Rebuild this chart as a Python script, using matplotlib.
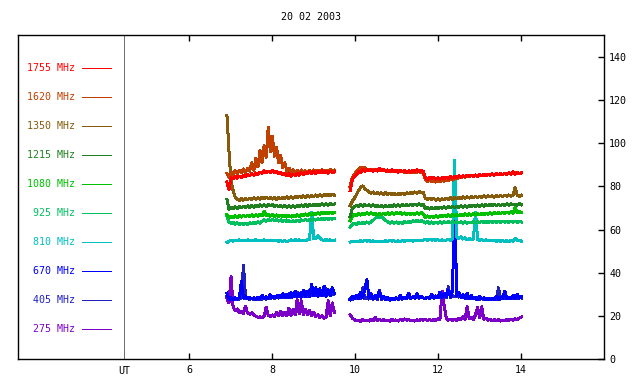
import numpy as np
import matplotlib
matplotlib.use("Agg")
import matplotlib.pyplot as plt

# ---------------- data ----------------
title = "20 02 2003"
freq_labels = ["1755 MHz", "1620 MHz", "1350 MHz", "1215 MHz", "1080 MHz",
               "925 MHz", "810 MHz", "670 MHz", "405 MHz", "275 MHz"]
colors = ["#ff0000", "#c04000", "#865c0c", "#208020", "#00c000",
          "#00c060", "#00c0c0", "#0000ff", "#2020c0", "#7c00c8"]
xticks = [6, 8, 10, 12, 14]
yticks = [0, 20, 40, 60, 80, 100, 120, 140]
seg1_range = (6.91, 9.50)
seg2_range = (9.88, 14.01)
ut_pos = 4.43

f1755_a = [82, 78.5, 84, 83.5, 84.5, 83.8, 84.8, 84.2, 85.2, 84.5,
           85.5, 84.9, 85.8, 85.2, 86.2, 85.5, 86.6, 86.0, 87.2, 86.3,
           87.0, 86.4, 87.3, 86.5, 86.9, 85.9, 86.5, 85.5, 86.0, 84.9,
           85.8, 84.6, 85.7, 85.0, 86.1, 85.2, 86.3, 85.4, 86.5, 85.8,
           86.8, 85.9, 86.9, 86.0, 87.0, 86.2, 87.2, 86.3, 86.9, 86.1,
           87.1, 86.3, 86.8]
f1755_b = [78, 83, 84.5, 85.5, 86.8, 86.2, 87.8, 87.0, 88.0, 87.2,
           87.6, 86.9, 87.9, 87.1, 88.2, 87.3, 87.9, 87.0, 87.6, 86.8,
           87.7, 86.9, 87.5, 86.6, 87.4, 86.8, 87.3, 86.5, 87.2, 86.6,
           87.4, 86.9, 87.6, 86.8, 87.4, 86.9, 84.0, 83.2, 84.3, 83.6,
           84.2, 83.4, 84.0, 83.3, 84.1, 83.5, 84.3, 83.7, 84.6, 83.9,
           84.7, 84.0, 84.9, 84.2, 85.0, 84.4, 85.2, 84.5, 85.1, 84.6,
           85.3, 84.7, 85.4, 84.9, 85.5, 85.0, 85.7, 85.1, 85.8, 85.2,
           85.9, 85.3, 86.0, 85.4, 86.1, 85.5, 86.3, 85.6, 86.9, 85.7,
           86.4, 85.8, 86.2]

f1620_a = [86, 84, 86.5, 85.2, 87.3, 85.8, 87.6, 86.2, 88.1, 86.5,
           88.5, 87.0, 91.0, 87.5, 93.0, 89.0, 96.5, 91.0, 99.0, 93.5,
           107.5, 96.0, 103.0, 94.0, 98.0, 91.0, 94.5, 88.5, 91.0, 87.0,
           88.5, 86.5, 87.8, 86.6, 87.4, 86.2, 87.6, 86.5, 87.2, 86.4,
           87.5, 86.6, 87.6, 86.7, 87.4, 86.8, 87.7, 86.9, 87.5, 86.8,
           87.8, 87.0, 87.6]
f1620_b = [80, 84, 85.5, 87.0, 88.0, 88.8, 88.3, 88.6, 88.0, 87.8,
           87.5, 87.9, 87.3, 88.0, 87.4, 87.8, 87.2, 87.6, 87.0, 87.5,
           86.9, 87.4, 86.8, 87.2, 86.7, 87.1, 86.6, 87.0, 86.5, 86.9,
           86.4, 86.8, 86.5, 86.9, 86.4, 86.2, 83.0, 82.3, 82.9, 82.1,
           82.8, 82.0, 82.7, 82.2, 83.0, 82.4, 83.2, 82.6, 83.4, 82.9,
           83.8, 83.4, 84.4, 84.0, 84.6, 84.2, 84.8, 84.4, 85.0, 84.6,
           85.1, 84.8, 85.3, 84.9, 85.4, 85.1, 85.6, 85.2, 85.7, 85.4,
           85.8, 85.5, 85.9, 85.6, 86.0, 85.7, 86.2, 85.8, 86.3, 86.0,
           86.4, 86.1, 86.3]

f1350_a = [113, 96, 82, 78, 75.0, 74.0, 73.5, 74.3, 73.6, 74.5,
           73.8, 74.6, 73.9, 74.7, 74.0, 74.8, 74.1, 74.9, 74.2, 75.0,
           74.3, 74.9, 74.1, 74.8, 74.0, 74.9, 74.2, 75.0, 74.3, 75.1,
           74.4, 75.2, 74.5, 75.3, 74.7, 75.4, 74.8, 75.6, 74.9, 75.7,
           75.0, 75.8, 75.2, 76.0, 75.3, 76.1, 75.4, 76.2, 75.6, 76.3,
           75.7, 76.4, 75.9]
f1350_b = [71, 73.0, 74.5, 76.0, 78.0, 79.5, 80.2, 79.0, 78.2, 77.5,
           76.8, 77.4, 76.5, 77.2, 76.4, 77.0, 76.3, 77.1, 76.2, 76.9,
           76.1, 76.8, 76.0, 76.7, 76.1, 76.9, 76.3, 77.0, 76.5, 77.2,
           76.7, 77.4, 76.9, 77.6, 77.0, 77.4, 74.5, 73.8, 74.6, 73.9,
           74.4, 73.6, 74.2, 73.5, 74.3, 73.7, 74.5, 73.9, 74.7, 74.0,
           74.8, 74.2, 75.0, 74.3, 75.1, 74.5, 75.2, 74.6, 75.3, 74.7,
           75.4, 74.8, 75.5, 74.9, 75.6, 75.0, 75.7, 75.1, 75.6, 75.0,
           75.7, 75.2, 75.8, 75.3, 75.9, 75.4, 76.0, 75.5, 76.1, 79.5,
           75.8, 75.4, 75.9]

f1215_a = [74, 69.5, 70.3, 69.6, 70.5, 69.8, 70.7, 70.0, 70.9, 70.2,
           71.0, 70.3, 71.1, 70.4, 71.3, 70.6, 71.5, 70.8, 71.4, 70.7,
           71.6, 70.9, 71.5, 70.6, 71.3, 70.5, 71.2, 70.4, 71.1, 70.3,
           71.0, 70.2, 71.1, 70.4, 71.2, 70.5, 71.4, 70.7, 71.5, 70.8,
           71.6, 70.9, 71.7, 71.0, 71.8, 71.1, 71.9, 71.2, 72.0, 71.3,
           72.1, 71.4, 71.8]
f1215_b = [66, 69.5, 70.5, 71.2, 70.6, 71.5, 70.8, 71.6, 70.9, 71.5,
           70.7, 71.4, 70.6, 71.3, 70.5, 71.2, 70.4, 71.1, 70.5, 71.3,
           70.6, 71.4, 70.7, 71.5, 70.8, 71.6, 70.9, 71.7, 71.0, 71.8,
           71.1, 71.8, 71.2, 71.9, 71.3, 71.6, 69.6, 70.3, 69.5, 70.2,
           69.6, 70.3, 69.7, 70.4, 69.8, 70.6, 69.9, 70.7, 70.0, 70.8,
           70.1, 70.9, 70.2, 71.0, 70.3, 71.1, 70.4, 71.2, 70.5, 71.3,
           70.6, 71.4, 70.7, 71.5, 70.8, 71.6, 70.9, 71.7, 71.0, 71.8,
           71.1, 71.7, 71.0, 71.8, 71.2, 71.9, 71.3, 72.0, 71.4, 71.6,
           71.3, 72.0, 71.5]

f1080_a = [67, 65.5, 66.2, 65.4, 66.3, 65.6, 66.5, 65.8, 66.6, 65.9,
           66.7, 66.0, 66.8, 66.1, 66.9, 66.2, 67.0, 66.3, 68.5, 66.4,
           67.0, 66.2, 66.9, 66.1, 66.8, 66.0, 66.7, 65.9, 66.6, 65.8,
           66.5, 65.8, 66.6, 65.9, 66.8, 66.1, 67.0, 66.3, 67.2, 66.5,
           67.4, 66.7, 67.6, 66.9, 67.8, 67.1, 67.9, 67.2, 68.0, 67.3,
           68.1, 67.5, 67.9]
f1080_b = [64, 66.0, 67.0, 66.4, 67.3, 66.7, 67.6, 66.9, 67.8, 67.0,
           67.7, 66.9, 67.6, 66.8, 67.5, 66.8, 67.6, 66.9, 67.7, 67.0,
           67.8, 67.1, 67.9, 67.2, 67.8, 67.1, 67.7, 67.0, 67.6, 66.9,
           67.6, 67.0, 67.7, 67.1, 67.8, 67.3, 65.6, 66.3, 65.5, 66.2,
           65.6, 66.4, 65.7, 66.5, 65.9, 66.7, 66.0, 66.8, 66.1, 66.9,
           66.2, 67.0, 66.3, 67.1, 66.4, 67.2, 66.5, 67.3, 66.6, 67.4,
           66.7, 67.4, 66.8, 67.5, 66.9, 67.6, 67.0, 67.7, 67.1, 67.8,
           67.2, 67.9, 67.3, 68.0, 67.4, 68.1, 67.5, 68.2, 67.6, 70.5,
           67.7, 68.2, 67.9]

f925_a = [66, 63.5, 62.8, 63.3, 62.5, 63.1, 62.4, 63.0, 62.3, 62.9,
          62.4, 63.1, 62.6, 63.3, 62.8, 63.5, 63.0, 63.8, 64.5, 63.9,
          64.6, 64.0, 64.7, 64.1, 64.6, 63.9, 64.5, 63.7, 64.3, 63.6,
          64.2, 63.5, 64.1, 63.6, 64.3, 63.8, 64.5, 64.0, 64.7, 64.1,
          64.8, 64.3, 64.9, 64.4, 65.0, 64.5, 65.1, 64.6, 65.2, 64.7,
          65.3, 64.8, 65.1]
f925_b = [61.0, 62.2, 62.9, 62.4, 63.2, 62.6, 63.4, 62.8, 63.5, 62.9,
          63.6, 64.2, 65.2, 66.0, 65.6, 66.2, 65.0, 64.2, 63.5, 63.0,
          63.6, 62.9, 63.5, 62.8, 63.4, 62.9, 63.6, 63.1, 63.8, 63.3,
          64.0, 63.5, 64.2, 63.6, 64.1, 63.7, 63.0, 63.6, 62.9, 63.5,
          62.8, 63.4, 62.9, 63.5, 63.0, 63.6, 63.1, 63.7, 63.2, 63.8,
          63.2, 63.7, 63.1, 63.6, 63.0, 63.5, 62.9, 63.4, 63.0, 63.6,
          63.1, 63.7, 63.2, 63.8, 63.3, 63.7, 63.2, 63.8, 63.3, 63.9,
          63.4, 63.8, 63.3, 63.9, 63.4, 63.8, 63.3, 63.9, 63.4, 63.8,
          63.3, 63.9, 63.5]

f810_a = [54.0, 54.5, 55.0, 54.6, 55.1, 54.8, 55.2, 54.7, 55.1, 54.9,
          55.2, 54.8, 55.1, 54.9, 55.3, 54.8, 55.1, 54.9, 55.2, 54.8,
          55.0, 54.7, 55.1, 54.8, 55.0, 54.6, 54.9, 54.5, 54.9, 54.3,
          54.8, 55.2, 54.9, 55.3, 54.9, 55.2, 54.8, 55.1, 54.9, 55.2,
          55.4, 68.0, 55.6, 55.8, 57.2, 56.0, 55.2, 55.0, 55.3, 54.9,
          55.2, 55.0, 55.1]
f810_b = [54.2, 54.6, 54.3, 54.7, 54.4, 54.8, 54.5, 54.9, 54.6, 54.9,
          54.5, 54.8, 54.4, 54.7, 54.3, 54.6, 54.4, 54.8, 54.5, 54.9,
          54.6, 54.8, 54.4, 54.7, 54.5, 54.9, 54.6, 55.0, 54.7, 55.0,
          54.6, 54.9, 54.7, 55.0, 54.8, 55.1, 55.4, 55.0, 55.5, 55.1,
          55.4, 55.0, 55.3, 54.9, 55.2, 54.8, 55.1, 55.3, 55.0, 56.0,
          92.0, 56.5, 55.8, 56.6, 55.6, 56.1, 55.3, 55.8, 55.2, 55.6,
          68.0, 55.4, 55.0, 55.3, 54.9, 55.2, 54.8, 55.1, 54.7, 55.0,
          54.6, 54.9, 54.6, 54.9, 54.5, 54.8, 54.5, 54.9, 54.6, 56.0,
          54.7, 54.9, 54.6]

f670_a = [30.5, 27.5, 28.3, 27.6, 28.4, 27.8, 28.6, 36.0, 28.2, 28.9,
          27.8, 28.5, 27.9, 28.4, 27.7, 28.6, 28.0, 29.5, 28.1, 28.8,
          28.2, 29.8, 28.4, 29.1, 28.3, 29.6, 28.5, 30.2, 28.6, 29.8,
          28.4, 30.8, 28.7, 31.5, 28.9, 30.6, 28.6, 32.0, 29.0, 31.2,
          28.8, 34.5, 29.2, 33.0, 29.0, 32.5, 29.3, 33.8, 29.1, 32.2,
          29.4, 33.0, 30.5]
f670_b = [27.5, 29.0, 28.0, 29.6, 28.1, 31.0, 28.3, 32.0, 36.8, 28.4,
          30.2, 28.0, 29.5, 27.9, 31.5, 28.0, 29.2, 27.6, 28.5, 27.4,
          28.2, 27.5, 28.4, 27.7, 29.5, 27.8, 28.6, 28.0, 30.5, 28.1,
          28.8, 28.2, 30.2, 28.4, 29.0, 28.3, 27.9, 28.7, 28.0, 30.0,
          28.3, 29.2, 28.4, 31.0, 28.6, 30.5, 28.8, 32.0, 29.0, 31.5,
          75.0, 29.5, 31.0, 28.6, 29.8, 28.2, 30.5, 28.0, 29.6, 27.8,
          28.5, 27.6, 29.0, 27.8, 28.3, 27.5, 28.2, 27.4, 28.0, 27.6,
          29.0, 27.7, 28.4, 27.8, 31.5, 27.9, 28.6, 28.0, 29.5, 28.1,
          30.0, 28.2, 28.8]

f405_a = [29, 28.0, 27.6, 28.2, 27.5, 28.1, 27.7, 28.4, 43.5, 28.0,
          28.0, 27.6, 28.2, 27.5, 28.0, 27.4, 28.1, 27.6, 28.3, 27.7,
          28.5, 27.9, 28.7, 28.0, 29.2, 28.2, 29.5, 28.3, 29.8, 28.5,
          30.2, 28.6, 30.5, 28.8, 31.0, 28.9, 30.8, 29.0, 31.5, 29.1,
          32.0, 29.3, 31.6, 29.4, 32.4, 29.5, 31.8, 29.6, 32.6, 29.7,
          31.5, 29.8, 30.2]
f405_b = [28.0, 27.6, 28.3, 27.8, 28.6, 27.9, 33.0, 28.0, 28.5, 27.8,
          28.4, 27.7, 28.2, 27.5, 31.8, 27.6, 28.1, 27.4, 28.0, 27.3,
          27.9, 27.4, 28.1, 27.6, 28.3, 27.7, 28.5, 27.9, 28.6, 28.0,
          28.7, 28.1, 28.8, 28.2, 28.9, 28.3, 28.0, 28.6, 28.1, 28.7,
          28.2, 28.8, 28.3, 29.0, 28.4, 29.2, 28.5, 33.5, 28.6, 29.5,
          28.8, 29.4, 28.7, 29.2, 28.4, 29.0, 28.2, 28.8, 28.0, 28.6,
          27.8, 28.4, 27.7, 28.3, 27.6, 28.2, 27.5, 28.1, 27.6, 28.2,
          27.7, 33.0, 27.8, 28.4, 27.9, 28.5, 28.0, 28.6, 28.1, 28.7,
          28.2, 28.8, 28.4]

f275_a = [28.0, 26.0, 38.2, 24.0, 22.5, 23.2, 21.5, 22.0, 21.0, 24.5,
          21.2, 20.8, 21.4, 20.5, 19.8, 19.3, 19.5, 19.2, 20.0, 24.0,
          20.3, 19.6, 20.4, 19.8, 21.5, 20.0, 22.0, 20.2, 21.8, 20.1,
          23.5, 20.3, 22.8, 20.5, 27.5, 21.0, 27.0, 20.4, 23.0, 20.6,
          22.5, 20.2, 21.5, 19.6, 20.5, 19.2, 20.0, 18.9, 19.5, 27.0,
          20.0, 26.0, 21.5]
f275_b = [20.5, 19.0, 18.2, 17.6, 18.0, 17.5, 18.3, 17.7, 18.1, 17.6,
          18.4, 17.8, 19.2, 17.9, 18.5, 17.7, 18.2, 17.6, 18.0, 17.5,
          18.3, 17.8, 18.1, 17.6, 18.4, 17.9, 18.6, 18.0, 18.3, 17.7,
          18.1, 17.6, 18.2, 17.8, 18.5, 18.0, 18.4, 17.9, 18.3, 17.8,
          18.2, 17.9, 18.6, 18.4, 31.5, 24.8, 18.8, 18.0, 18.5, 17.9,
          18.3, 17.8, 18.9, 18.2, 19.5, 18.4, 24.3, 18.6, 19.2, 18.3,
          20.5, 24.0, 19.0, 24.2, 18.4, 18.9, 18.0, 18.5, 17.7, 18.2,
          17.8, 18.3, 17.6, 18.1, 17.7, 18.3, 17.9, 18.5, 18.0, 18.6,
          18.1, 19.0, 19.5]

series = [(f1755_a, f1755_b), (f1620_a, f1620_b), (f1350_a, f1350_b),
          (f1215_a, f1215_b), (f1080_a, f1080_b), (f925_a, f925_b),
          (f810_a, f810_b), (f670_a, f670_b), (f405_a, f405_b),
          (f275_a, f275_b)]

# ---------------- plot ----------------
FONT = "DejaVu Sans Mono"
FS = 7.2
fig = plt.figure(figsize=(6.4, 3.84), dpi=100)
ax = fig.add_axes([18.3 / 640, 1 - 359 / 384, (604 - 18.3) / 640, (359 - 35.3) / 384])
ax.set_xlim(1.88, 16.0)
ax.set_ylim(0, 150)

# draw low frequencies first so the high ones sit on top
for (a, b), col in reversed(list(zip(series, colors))):
    ta = np.linspace(seg1_range[0], seg1_range[1], len(a))
    tb = np.linspace(seg2_range[0], seg2_range[1], len(b))
    ax.plot(ta, a, color=col, lw=1.44, antialiased=False)
    ax.plot(tb, b, color=col, lw=1.44, antialiased=False)

# legend block at left
label_top = 134.9
label_step = 13.45
for i, (lab, col) in enumerate(zip(freq_labels, colors)):
    y = label_top - i * label_step
    ax.text(3.253, y, lab, color=col, ha="right", va="center",
            fontsize=FS, family=FONT)
    ax.plot([3.417, 4.108], [y, y], color=col, lw=0.72, antialiased=False)

ax.axvline(ut_pos, color="#707070", lw=0.72, antialiased=False)
ax.text(ut_pos, -3.2, "UT", ha="center", va="top", fontsize=FS, family=FONT)

ax.set_xticks(xticks)
ax.set_xticklabels([str(v) for v in xticks], family=FONT, fontsize=FS)
ax.tick_params(axis="x", direction="in", length=4, top=True, bottom=True,
               labeltop=False, pad=4.5, width=1)
ax.yaxis.tick_right()
ax.set_yticks(yticks)
ax.set_yticklabels([str(v) for v in yticks], family=FONT, fontsize=FS)
ax.tick_params(axis="y", direction="in", length=4, right=True, left=False,
               pad=3.8, width=1)
for s in ax.spines.values():
    s.set_linewidth(1.0)

fig.text(0.486, 1 - 17.5 / 384, title, ha="center", va="center",
         fontsize=FS, family=FONT)

fig.savefig("out.png", dpi=100)
